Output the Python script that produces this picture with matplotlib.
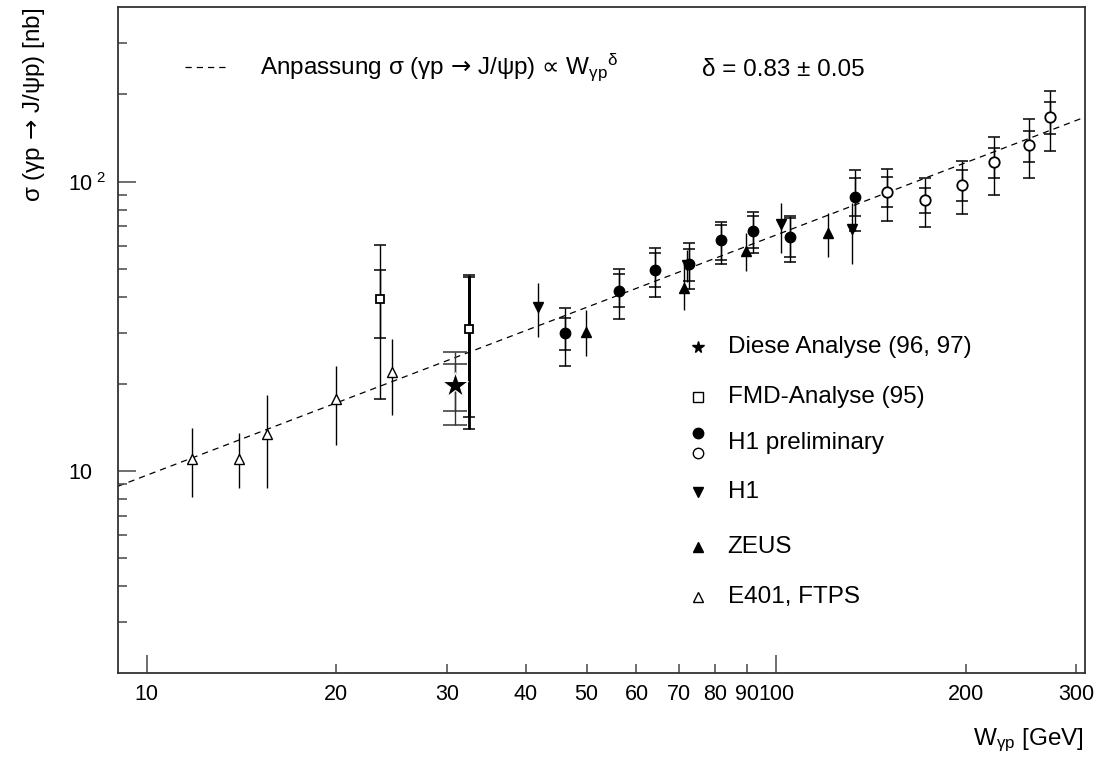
import numpy as np
import matplotlib
matplotlib.use("Agg")
import matplotlib.pyplot as plt
from matplotlib.ticker import FixedLocator, FixedFormatter

plt.rcParams['font.family'] = ['Liberation Sans', 'DejaVu Sans']
plt.rcParams['mathtext.fontset'] = 'custom'
plt.rcParams['mathtext.rm'] = 'Liberation Sans'
plt.rcParams['mathtext.it'] = 'Liberation Sans:italic'
plt.rcParams['mathtext.bf'] = 'Liberation Sans:bold'
plt.rcParams['mathtext.sf'] = 'DejaVu Sans'
plt.rcParams['mathtext.default'] = 'regular'

# ---- cross-section data: W_gp [GeV], sigma [nb] ----
# this analysis (96, 97)
this_w = [30.9]
this_s = [19.8]
this_stat_lo = [16.1]
this_stat_hi = [23.5]
this_tot_lo = [14.4]
this_tot_hi = [25.8]

# FMD analysis (95)
fmd_w = [23.5, 32.5]
fmd_s = [39.2, 30.9]
fmd_stat_lo = [28.9, 15.4]
fmd_stat_hi = [49.5, 46.7]
fmd_tot_lo = [17.8, 14.0]
fmd_tot_hi = [60.5, 47.7]

# H1 preliminary, closed symbols
h1p_w = [46.2, 56.2, 64.1, 72.6, 81.6, 92.0, 105.3, 133.6]
h1p_s = [29.9, 41.8, 49.4, 51.9, 62.7, 67.7, 64.5, 88.7]
h1p_stat_lo = [26.2, 36.8, 43.1, 45.2, 53.6, 58.8, 55.0, 76.1]
h1p_stat_hi = [33.7, 47.9, 56.5, 58.4, 70.9, 76.1, 74.7, 102.7]
h1p_tot_lo = [23.1, 33.5, 40.0, 42.5, 51.8, 56.5, 52.9, 67.7]
h1p_tot_hi = [36.5, 50.0, 59.1, 61.2, 72.5, 78.7, 76.3, 109.8]

# H1 preliminary, open symbols
h1o_w = [149.9, 172.6, 197.3, 222.2, 252.5, 272.3]
h1o_s = [92.3, 86.4, 97.4, 116.7, 133.6, 166.9]
h1o_stat_lo = [81.6, 78.1, 85.9, 102.7, 117.0, 146.3]
h1o_stat_hi = [103.6, 94.9, 109.8, 130.5, 150.1, 188.7]
h1o_tot_lo = [73.0, 69.5, 77.3, 89.9, 102.7, 127.7]
h1o_tot_hi = [110.9, 103.2, 118.2, 143.1, 164.4, 205.9]

# H1
h1_w = [41.9, 72.3, 101.9, 132.2]
h1_s = [36.9, 51.5, 71.2, 68.4]
h1_lo = [29.1, 45.0, 56.5, 51.9]
h1_hi = [44.5, 58.0, 84.6, 84.2]

# ZEUS
zeus_w = [49.8, 71.3, 89.6, 121.1]
zeus_s = [30.1, 42.8, 57.6, 66.3]
zeus_lo = [24.9, 36.0, 48.9, 55.0]
zeus_hi = [36.0, 51.5, 66.6, 77.7]

# E401, FTPS
e401_w = [11.8, 14.0, 15.5, 20.0, 24.5]
e401_s = [11.0, 11.0, 13.4, 17.7, 22.0]
e401_lo = [8.1, 8.7, 8.7, 12.3, 15.6]
e401_hi = [14.1, 13.5, 18.3, 23.0, 28.6]

# power-law fit sigma = norm * W^delta
fit_delta = 0.83
fit_norm = 1.43

x_range = (9, 310)
y_range = (2, 400)
x_major = [10, 100]
x_minor = [20, 30, 40, 50, 60, 70, 80, 90, 200, 300]
y_major = [10, 100]
y_minor = [3, 4, 5, 6, 7, 8, 9, 20, 30, 40, 50, 60, 70, 80, 90, 200, 300]

FS = 17.5
TICK_FS = 15.5

W, H = 1099, 764
L, R, T, B = 118, 1085.3, 7.3, 673.3
fig = plt.figure(figsize=(W / 100, H / 100), dpi=100)
ax = fig.add_axes([L / W, 1 - B / H, (R - L) / W, (B - T) / H])


def axc(px, py):
    return ((px - L) / (R - L), (B - py) / (B - T))


ax.set_xscale('log')
ax.set_yscale('log')
ax.set_xlim(*x_range)
ax.set_ylim(*y_range)


def bars(w, s, lo, hi, capsize=4.0, lw=1.0, color='black', capcolor=None, z=2):
    s = np.asarray(s)
    err = [s - np.asarray(lo), np.asarray(hi) - s]
    _, caps, _ = ax.errorbar(w, s, yerr=err, fmt='none', ecolor=color,
                             elinewidth=lw, capsize=capsize, capthick=1.1,
                             zorder=z)
    if capcolor is not None:
        for c in caps:
            c.set_color(capcolor)


# fit line
wfit = np.geomspace(x_range[0], x_range[1], 200)
ax.plot(wfit, fit_norm * wfit ** fit_delta, color='black', lw=0.9,
        dashes=(5, 4), zorder=1)

# E401 / FTPS
bars(e401_w, e401_s, e401_lo, e401_hi, capsize=0)
ax.plot(e401_w, e401_s, ls='none', marker='^', ms=7, mfc='white',
        mec='black', mew=1.0, zorder=4)

# FMD analysis
bars(fmd_w[:1], fmd_s[:1], fmd_tot_lo[:1], fmd_tot_hi[:1], capsize=4.5)
bars(fmd_w[:1], fmd_s[:1], fmd_stat_lo[:1], fmd_stat_hi[:1], capsize=4.5)
bars(fmd_w[1:], fmd_s[1:], fmd_tot_lo[1:], fmd_tot_hi[1:], capsize=4.5, lw=2.0)
bars(fmd_w[1:], fmd_s[1:], fmd_stat_lo[1:], fmd_stat_hi[1:], capsize=4.5, lw=2.0)
ax.plot(fmd_w, fmd_s, ls='none', marker='s', ms=5.5, mfc='white',
        mec='black', mew=1.3, zorder=4)

# this analysis
bars(this_w, this_s, this_tot_lo, this_tot_hi, capsize=8.5, color='#333',
     capcolor='#555')
bars(this_w, this_s, this_stat_lo, this_stat_hi, capsize=8.5, color='#333',
     capcolor='#555')
ax.plot(this_w, this_s, ls='none', marker='*', ms=19, mfc='black',
        mec='white', mew=0.8, zorder=4)

# H1
bars(h1_w, h1_s, h1_lo, h1_hi, capsize=0)
ax.plot(h1_w, h1_s, ls='none', marker='v', ms=7, color='black', zorder=4)

# ZEUS
bars(zeus_w, zeus_s, zeus_lo, zeus_hi, capsize=0)
ax.plot(zeus_w, zeus_s, ls='none', marker='^', ms=7, color='black', zorder=4)

# H1 preliminary
bars(h1p_w, h1p_s, h1p_tot_lo, h1p_tot_hi)
bars(h1p_w, h1p_s, h1p_stat_lo, h1p_stat_hi)
ax.plot(h1p_w, h1p_s, ls='none', marker='o', ms=7.5, color='black', zorder=4)
bars(h1o_w, h1o_s, h1o_tot_lo, h1o_tot_hi)
bars(h1o_w, h1o_s, h1o_stat_lo, h1o_stat_hi)
ax.plot(h1o_w, h1o_s, ls='none', marker='o', ms=7.5, mfc='white',
        mec='black', mew=1.3, zorder=4)

# fit annotation
ax.plot(*zip(axc(184.5, 66.7), axc(228.9, 66.7)), transform=ax.transAxes,
        color='black', lw=0.9, dashes=(5, 4))
ax.text(*axc(259.5, 75.5),
        r'Anpassung σ (γp $\mathsf{→}$ J/ψp) $\mathsf{∝}$ W$_{γp}$$^{δ}$',
        transform=ax.transAxes, fontsize=FS, ha='left', va='baseline')
ax.text(*axc(701.8, 75.5), 'δ = 0.83 ± 0.05', transform=ax.transAxes,
        fontsize=FS, ha='left', va='baseline')

# legend
lx, tx = 697.7, 727.7
key_style = dict(transform=ax.transAxes, ls='none', clip_on=False, zorder=5)
ax.plot(*axc(lx, 346.7), marker='*', ms=8.5, color='black', **key_style)
ax.plot(*axc(lx, 397.3), marker='s', ms=7, mfc='white', mec='black', mew=1.0, **key_style)
ax.plot(*axc(lx, 433.3), marker='o', ms=7.5, color='black', **key_style)
ax.plot(*axc(lx, 453.0), marker='o', ms=7.5, mfc='white', mec='black', mew=1.0, **key_style)
ax.plot(*axc(lx, 492.0), marker='v', ms=7, color='black', **key_style)
ax.plot(*axc(lx, 546.7), marker='^', ms=7, color='black', **key_style)
ax.plot(*axc(lx, 596.7), marker='^', ms=7.5, mfc='white', mec='black', mew=1.0, **key_style)
legend_rows = [('Diese Analyse (96, 97)', 346.7), ('FMD-Analyse (95)', 397.3),
               ('H1 preliminary', 443.3), ('H1', 492.0), ('ZEUS', 546.7),
               ('E401, FTPS', 596.7)]
for label, py in legend_rows:
    ax.text(*axc(tx, py), label, transform=ax.transAxes, fontsize=FS,
            ha='left', va='center')

# axes styling
frame_col = '#333333'
for side in ('top', 'right', 'bottom', 'left'):
    ax.spines[side].set_color(frame_col)
    ax.spines[side].set_linewidth(1.3)

ax.xaxis.set_major_locator(FixedLocator(x_major))
ax.xaxis.set_major_formatter(FixedFormatter([str(v) for v in x_major]))
ax.xaxis.set_minor_locator(FixedLocator(x_minor))
ax.xaxis.set_minor_formatter(FixedFormatter([str(v) for v in x_minor]))
ax.yaxis.set_major_locator(FixedLocator(y_major))
ax.yaxis.set_major_formatter(FixedFormatter(['10', '10$^{\\ 2}$']))
ax.yaxis.set_minor_locator(FixedLocator(y_minor))
ax.yaxis.set_minor_formatter(FixedFormatter([''] * len(y_minor)))

ax.tick_params(which='both', direction='in', top=False, right=False,
               color='#555555', width=1.2, labelsize=TICK_FS)
ax.tick_params(which='major', length=13)
ax.tick_params(which='minor', length=6.5)
ax.tick_params(axis='x', which='both', pad=8)
ax.tick_params(axis='y', which='both', pad=(L - 68.4) * 0.72)
for lab in ax.get_yticklabels():
    lab.set_horizontalalignment('left')

ax.set_ylabel(r'σ (γp $\mathsf{→}$ J/ψp) [nb]', fontsize=FS, loc='top')
ax.yaxis.set_label_coords(*axc(47, T))
ax.set_xlabel('W$_{γp}$ [GeV]', fontsize=FS, loc='right')
ax.xaxis.set_label_coords(*axc(R - 1.5, 727))

fig.savefig('out.png', dpi=100)
